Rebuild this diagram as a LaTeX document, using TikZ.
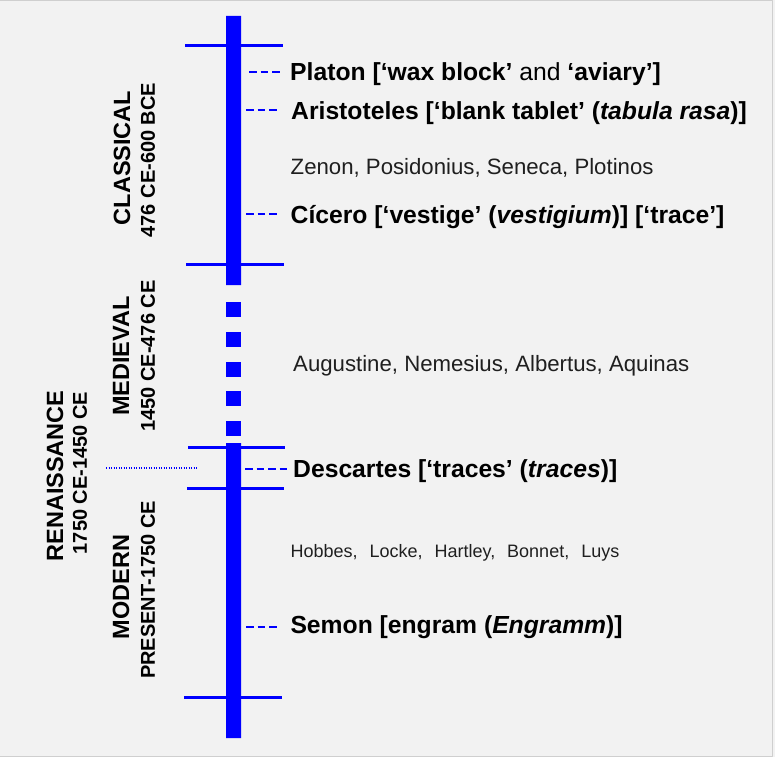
\documentclass[tikz,border=0pt]{standalone}
\usepackage{fontspec}
\setmainfont{Liberation Sans}
\definecolor{paper}{HTML}{F2F2F2}
\definecolor{frameline}{HTML}{CFCFCF}
\tikzset{
  era/.style={rotate=90, inner sep=0pt, font=\bfseries\fontsize{23.5}{26}\selectfont},
  dates/.style={rotate=90, inner sep=0pt, font=\bfseries\fontsize{20}{22}\selectfont},
  thinker/.style={anchor=base west, inner sep=0pt, font=\bfseries\fontsize{24.7}{28}\selectfont},
  others/.style={anchor=base west, inner sep=0pt, text=black!88, font=\fontsize{22.2}{26}\selectfont},
  leader/.style={blue, line width=1.4pt, dash pattern=on 7.5pt off 4pt},
  divider/.style={blue, line width=3pt},
}
\begin{document}
\begin{tikzpicture}[x=1pt, y=-1pt, line join=round]
	\fill[paper] (0,0) rectangle (775,757);
	\useasboundingbox (0,0) rectangle (775,757);
	\draw[frameline] (0,.5)--(772,.5)--(772,756)--(0,756);
	% time bar
	\fill[blue] (226,16) rectangle (241,285) (226,443) rectangle (241,738);
	\foreach \i in {0,...,4}
		\fill[blue] (226,302+29.75*\i) rectangle +(15,15);
	\draw[divider] (185,46)--(283,46) (186,264.5)--(284,264.5)
		(188,447)--(285,447) (187,488.3)--(284,488.3)
		(184,697.3)--(282,697.3);
	\draw[blue, line width=1.2pt, dash pattern=on 1.2pt off 1.3pt] (106,468)--(197,468);
	% periods
	\node[era] (classical) at (122,158) {CLASSICAL};
	\node[dates] (classical-span) at (148,160) {476 CE-600 BCE};
	\node[era] (medieval) at (121,356) {MEDIEVAL};
	\node[dates] (medieval-span) at (148,356) {1450 CE-476 CE};
	\node[era] (renaissance) at (55,476) {RENAISSANCE};
	\node[dates] (renaissance-span) at (80,473) {1750 CE-1450 CE};
	\node[era] (modern) at (121,587) {MODERN};
	\node[dates] (modern-span) at (148,590) {PRESENT-1750 CE};
	% thinkers
	\node[thinker] (platon) at (290,81) {Platon [‘wax block’ \textmd{and} ‘aviary’]};
	\node[thinker] (aristoteles) at (291,119) {Aristoteles [‘blank tablet’ (\textit{tabula rasa})]};
	\node[others] (stoics) at (290.5,174.3) {Zenon, Posidonius, Seneca, Plotinos};
	\node[thinker] (cicero) at (290.5,223) {Cícero [‘vestige’ (\textit{vestigium})] [‘trace’]};
	\node[others] (scholastics) at (293,371) {Augustine, Nemesius, Albertus, Aquinas};
	\node[thinker] (descartes) at (293,477) {Descartes [‘traces’ (\textit{traces})]};
	\node[others, font=\fontsize{18}{22}\selectfont] (empiricists) at (290.3,557.7)
		{Hobbes,\hspace{7pt} Locke,\hspace{7pt} Hartley,\hspace{7pt} Bonnet,\hspace{7pt} Luys};
	\node[thinker] (semon) at (290.3,633.5) {Semon [engram (\textit{Engramm})]};
	% leaders
	\coordinate (platon-tick) at (249,72);
	\coordinate (aristoteles-tick) at (246,110);
	\coordinate (cicero-tick) at (246,214);
	\coordinate (descartes-tick) at (245,469);
	\coordinate (semon-tick) at (246,627);
	\draw[leader, shorten >=9pt] (platon-tick)--(platon-tick -| platon.west);
	\draw[leader, shorten >=13pt] (aristoteles-tick)--(aristoteles-tick -| aristoteles.west);
	\draw[leader, shorten >=12.5pt] (cicero-tick)--(cicero-tick -| cicero.west);
	\draw[leader, shorten >=6pt] (descartes-tick)--(descartes-tick -| descartes.west);
	\draw[leader, shorten >=12.3pt] (semon-tick)--(semon-tick -| semon.west);
\end{tikzpicture}
\end{document}
